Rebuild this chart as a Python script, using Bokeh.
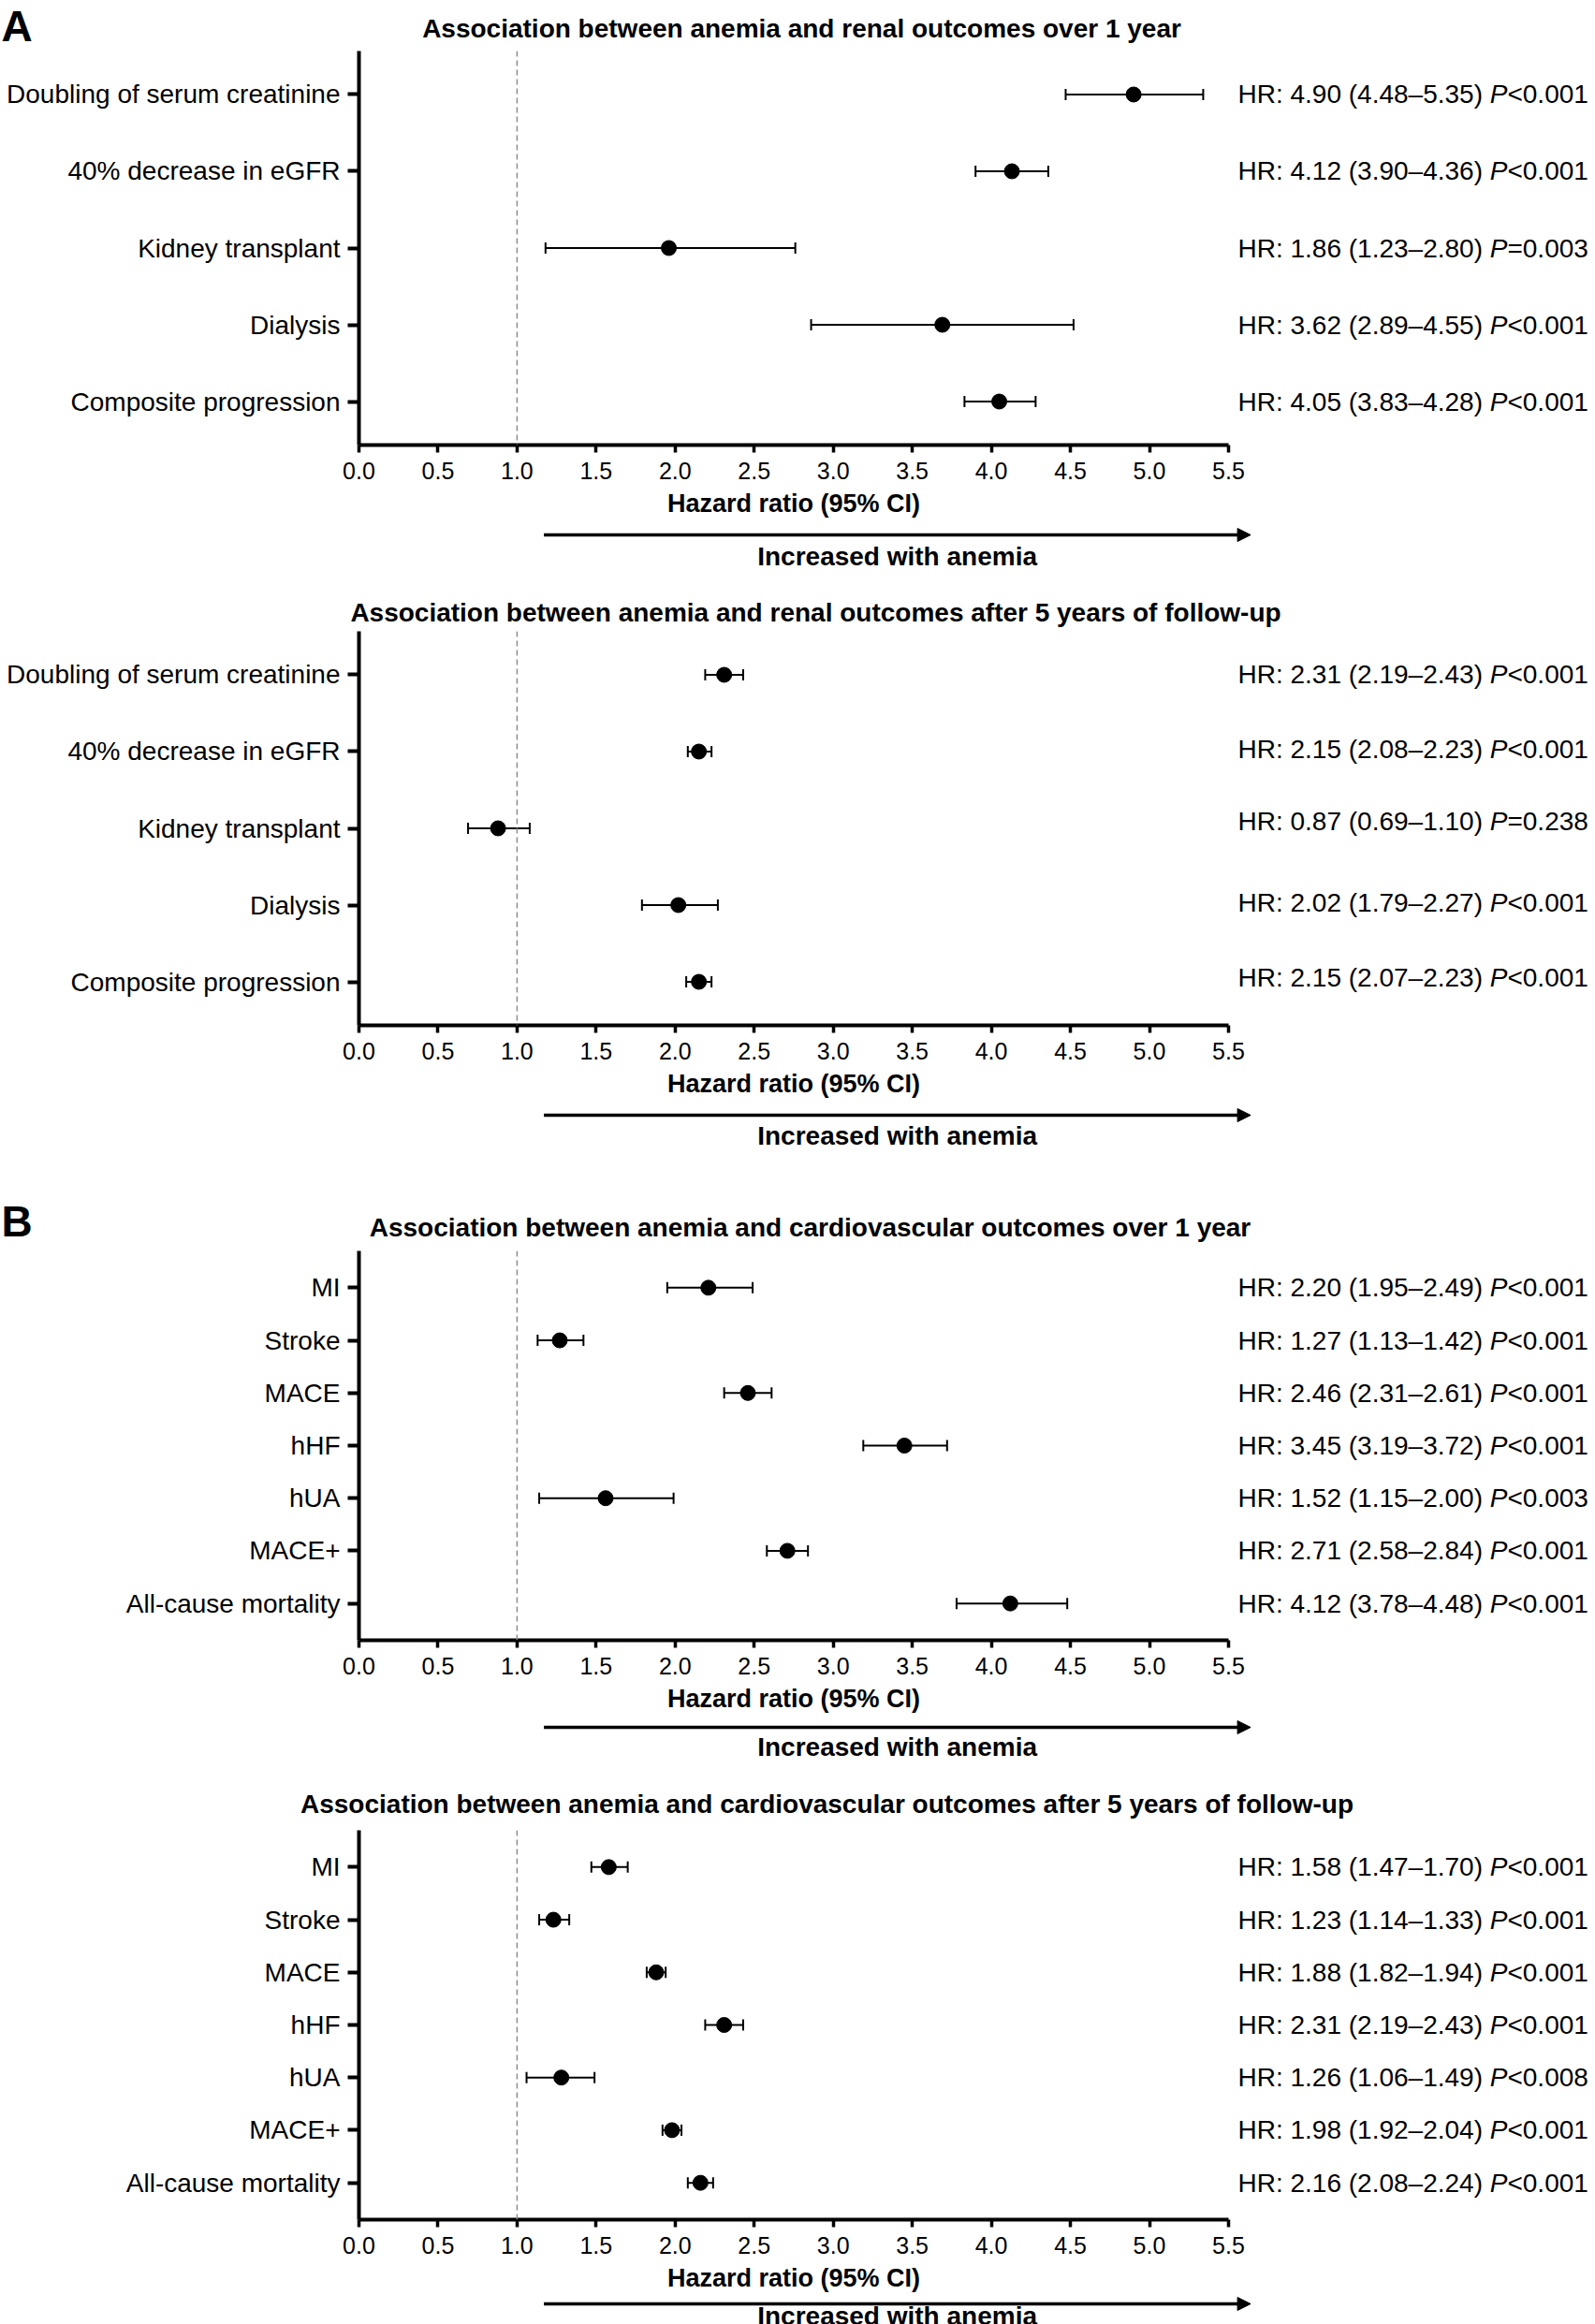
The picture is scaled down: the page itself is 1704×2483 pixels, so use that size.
from bokeh.plotting import figure
from bokeh.models import (ColumnDataSource, Range1d, FactorRange, FixedTicker,
                          NumeralTickFormatter, Whisker, TeeHead, Span, Arrow, NormalHead)
from bokeh.layouts import column
from bokeh.core.properties import value
from bokeh.embed import file_html
from bokeh.resources import INLINE

# ---------------- data ----------------
renal_outcomes = ["Doubling of serum creatinine", "40% decrease in eGFR",
                  "Kidney transplant", "Dialysis", "Composite progression"]
cv_outcomes = ["MI", "Stroke", "MACE", "hHF", "hUA", "MACE+", "All-cause mortality"]

# Panel A, over 1 year (plotted estimate, lower, upper)
renal_1y_hr = [4.90, 4.13, 1.96, 3.69, 4.05]
renal_1y_lo = [4.47, 3.90, 1.18, 2.86, 3.83]
renal_1y_hi = [5.34, 4.36, 2.76, 4.52, 4.28]
renal_1y_label = ["HR: 4.90 (4.48–5.35) ", "HR: 4.12 (3.90–4.36) ", "HR: 1.86 (1.23–2.80) ",
                  "HR: 3.62 (2.89–4.55) ", "HR: 4.05 (3.83–4.28) "]
renal_1y_p = ["<0.001", "<0.001", "=0.003", "<0.001", "<0.001"]

# Panel A, after 5 years
renal_5y_hr = [2.31, 2.15, 0.88, 2.02, 2.15]
renal_5y_lo = [2.19, 2.08, 0.69, 1.79, 2.07]
renal_5y_hi = [2.43, 2.23, 1.08, 2.27, 2.23]
renal_5y_label = ["HR: 2.31 (2.19–2.43) ", "HR: 2.15 (2.08–2.23) ", "HR: 0.87 (0.69–1.10) ",
                  "HR: 2.02 (1.79–2.27) ", "HR: 2.15 (2.07–2.23) "]
renal_5y_p = ["<0.001", "<0.001", "=0.238", "<0.001", "<0.001"]

# Panel B, over 1 year
cv_1y_hr = [2.21, 1.27, 2.46, 3.45, 1.56, 2.71, 4.12]
cv_1y_lo = [1.95, 1.13, 2.31, 3.19, 1.14, 2.58, 3.78]
cv_1y_hi = [2.49, 1.42, 2.61, 3.72, 1.99, 2.84, 4.48]
cv_1y_label = ["HR: 2.20 (1.95–2.49) ", "HR: 1.27 (1.13–1.42) ", "HR: 2.46 (2.31–2.61) ",
               "HR: 3.45 (3.19–3.72) ", "HR: 1.52 (1.15–2.00) ", "HR: 2.71 (2.58–2.84) ",
               "HR: 4.12 (3.78–4.48) "]
cv_1y_p = ["<0.001", "<0.001", "<0.001", "<0.001", "<0.003", "<0.001", "<0.001"]

# Panel B, after 5 years
cv_5y_hr = [1.58, 1.23, 1.88, 2.31, 1.28, 1.98, 2.16]
cv_5y_lo = [1.47, 1.14, 1.82, 2.19, 1.06, 1.92, 2.08]
cv_5y_hi = [1.70, 1.33, 1.94, 2.43, 1.49, 2.04, 2.24]
cv_5y_label = ["HR: 1.58 (1.47–1.70) ", "HR: 1.23 (1.14–1.33) ", "HR: 1.88 (1.82–1.94) ",
               "HR: 2.31 (2.19–2.43) ", "HR: 1.26 (1.06–1.49) ", "HR: 1.98 (1.92–2.04) ",
               "HR: 2.16 (2.08–2.24) "]
cv_5y_p = ["<0.001", "<0.001", "<0.001", "<0.001", "<0.008", "<0.001", "<0.001"]

titles = ["Association between anemia and renal outcomes over 1 year",
          "Association between anemia and renal outcomes after 5 years of follow-up",
          "Association between anemia and cardiovascular outcomes over 1 year",
          "Association between anemia and cardiovascular outcomes after 5 years of follow-up"]
x_ticks = [0.0, 0.5, 1.0, 1.5, 2.0, 2.5, 3.0, 3.5, 4.0, 4.5, 5.0, 5.5]
x_axis_end = 5.5
reference_hr = 1.0
arrow_from, arrow_to = 1.17, 5.64
axis_label = "Hazard ratio (95% CI)"
arrow_label = "Increased with anemia"

# ---------------- layout ----------------
FONT = "Liberation Sans"
W = 1704
LEFT = 383
PX_PER_UNIT = 168.9
X_END = (W - LEFT) / PX_PER_UNIT
TEXT_X = (1322 - LEFT) / PX_PER_UNIT
HEAD_H = 54
PLOT_H = 421          # frame area incl. optional top gap
AX_BOTTOM = 48
LBL_SIZE = 28
LBL = "%dpx" % LBL_SIZE
# small vertical nudges (px, upward) of the HR annotations, as drawn in the source
TEXT_NUDGE_A2 = [0, 2, 8, 3, 5]

ARIAL = {"H": 722, "R": 722, ":": 278, " ": 278, ".": 278, "(": 333, ")": 333,
         "–": 556, "P": 667, "<": 584, "=": 584}


def tw(s, size):
    return sum(ARIAL.get(c, 556) for c in s) * size / 1000.0


def bare(fig):
    fig.xgrid.visible = False
    fig.ygrid.visible = False
    return fig


def make_panel(letter, title, title_px, title_cy, cats, hr, lo, hi, lab, pv,
               pad, top_gap, foot_h, label_y, arrow_y, note_y, nudge=None):
    figs = []
    xr = Range1d(0, X_END)

    head = figure(width=W, height=HEAD_H, x_range=Range1d(0, W), y_range=Range1d(0, HEAD_H),
                  output_backend="svg", toolbar_location=None, min_border=0,
                  frame_align=False, x_axis_type=None, y_axis_type=None,
                  outline_line_color=None)
    head.text(x=[title_px], y=[HEAD_H - title_cy], text=[title], text_font=value(FONT),
              text_font_size="28px", text_font_style="bold", text_align="center",
              text_baseline="middle", text_color="black")
    if letter:
        head.text(x=[1], y=[HEAD_H - 1], text=[letter], text_font=value(FONT),
                  text_font_size="46px", text_font_style="bold", text_align="left",
                  text_baseline="top", text_color="black")
    figs.append(head)

    yr = FactorRange(factors=list(reversed(cats)), range_padding=pad,
                     range_padding_units="absolute")
    p = figure(width=W, height=PLOT_H + AX_BOTTOM, x_range=xr, y_range=yr,
               output_backend="svg", toolbar_location=None, frame_align=False,
               min_border_left=LEFT, min_border_right=0, min_border_top=top_gap,
               min_border_bottom=AX_BOTTOM, outline_line_color=None)
    bare(p)
    p.xaxis.bounds = (0, x_axis_end)
    p.xaxis.ticker = FixedTicker(ticks=x_ticks)
    p.xaxis.formatter = NumeralTickFormatter(format="0.0")
    p.xaxis.axis_line_width = 4
    p.xaxis.major_tick_out = 8
    p.xaxis.major_tick_in = 0
    p.xaxis.major_tick_line_width = 3.5
    p.xaxis.minor_tick_line_color = None
    p.xaxis.major_label_text_font = FONT
    p.xaxis.major_label_text_font_size = "25px"
    p.xaxis.major_label_text_color = "black"
    p.xaxis.major_label_standoff = 10

    p.yaxis.axis_line_width = 4
    p.yaxis.major_tick_out = 12
    p.yaxis.major_tick_in = 0
    p.yaxis.major_tick_line_width = 4
    p.yaxis.major_label_text_font = FONT
    p.yaxis.major_label_text_font_size = LBL
    p.yaxis.major_label_text_color = "black"
    p.yaxis.major_label_standoff = 8

    p.add_layout(Span(location=reference_hr, dimension="height", line_color="#8c8c8c",
                      line_width=1.5, line_dash="6 4"))

    off_p = [tw(s, LBL_SIZE) for s in lab]
    off_v = [o + tw("P", LBL_SIZE) for o in off_p]
    dy = [-n for n in (nudge or [0] * len(cats))]
    src = ColumnDataSource(dict(cat=cats, hr=hr, lo=lo, hi=hi, lab=lab, pv=pv,
                                off_p=off_p, off_v=off_v, dy=dy))
    p.add_layout(Whisker(source=src, base="cat", lower="lo", upper="hi", dimension="width",
                         line_color="black", line_width=2,
                         lower_head=TeeHead(size=12, line_width=2, line_color="black"),
                         upper_head=TeeHead(size=12, line_width=2, line_color="black")))
    p.scatter("hr", "cat", source=src, size=16, color="black")
    common = dict(text_font=value(FONT), text_font_size=LBL, text_baseline="middle",
                  text_align="left", text_color="black", source=src, y_offset="dy")
    p.text(x=TEXT_X, y="cat", text="lab", **common)
    p.text(x=TEXT_X, y="cat", text=value("P"), x_offset="off_p", text_font_style="italic", **common)
    p.text(x=TEXT_X, y="cat", text="pv", x_offset="off_v", **common)
    figs.append(p)

    foot = figure(width=W, height=foot_h, x_range=xr, y_range=Range1d(0, foot_h),
                  output_backend="svg", toolbar_location=None, frame_align=False,
                  min_border_left=LEFT, min_border_right=0, min_border_top=0, min_border_bottom=0,
                  x_axis_type=None, y_axis_type=None, outline_line_color=None)
    bare(foot)
    foot.text(x=[x_axis_end / 2], y=[foot_h - label_y], text=[axis_label],
              text_font=value(FONT), text_font_size="27px", text_font_style="bold",
              text_align="center", text_baseline="middle", text_color="black")
    foot.add_layout(Arrow(x_start=arrow_from, x_end=arrow_to, y_start=foot_h - arrow_y,
                          y_end=foot_h - arrow_y, line_width=3.5, line_color="black",
                          end=NormalHead(size=14, fill_color="black", line_color="black",
                                         line_width=1)))
    foot.text(x=[(arrow_from + arrow_to) / 2], y=[foot_h - note_y], text=[arrow_label],
              text_font=value(FONT), text_font_size="28px", text_font_style="bold",
              text_align="center", text_baseline="middle", text_color="black")
    figs.append(foot)
    return figs


figs = []
figs += make_panel("A", titles[0], 856, 30, renal_outcomes, renal_1y_hr, renal_1y_lo,
                   renal_1y_hi, renal_1y_label, renal_1y_p, 0.067, 0, 97, 14, 48, 71)
figs += make_panel(None, titles[1], 871, 34, renal_outcomes, renal_5y_hr, renal_5y_lo,
                   renal_5y_hi, renal_5y_label, renal_5y_p, 0.067, 0, 134, 14, 48, 70,
                   TEXT_NUDGE_A2)
figs += make_panel("B", titles[2], 865, 34, cv_outcomes, cv_1y_hr, cv_1y_lo,
                   cv_1y_hi, cv_1y_label, cv_1y_p, 0.2, 5, 96, 14, 45, 66)
figs += make_panel(None, titles[3], 883, 31, cv_outcomes, cv_5y_hr, cv_5y_lo,
                   cv_5y_hi, cv_5y_label, cv_5y_p, 0.2, 5, 64, 14, 42, 55)

layout = column(*figs, spacing=0)
open("out.html", "w").write(file_html(layout, INLINE))
